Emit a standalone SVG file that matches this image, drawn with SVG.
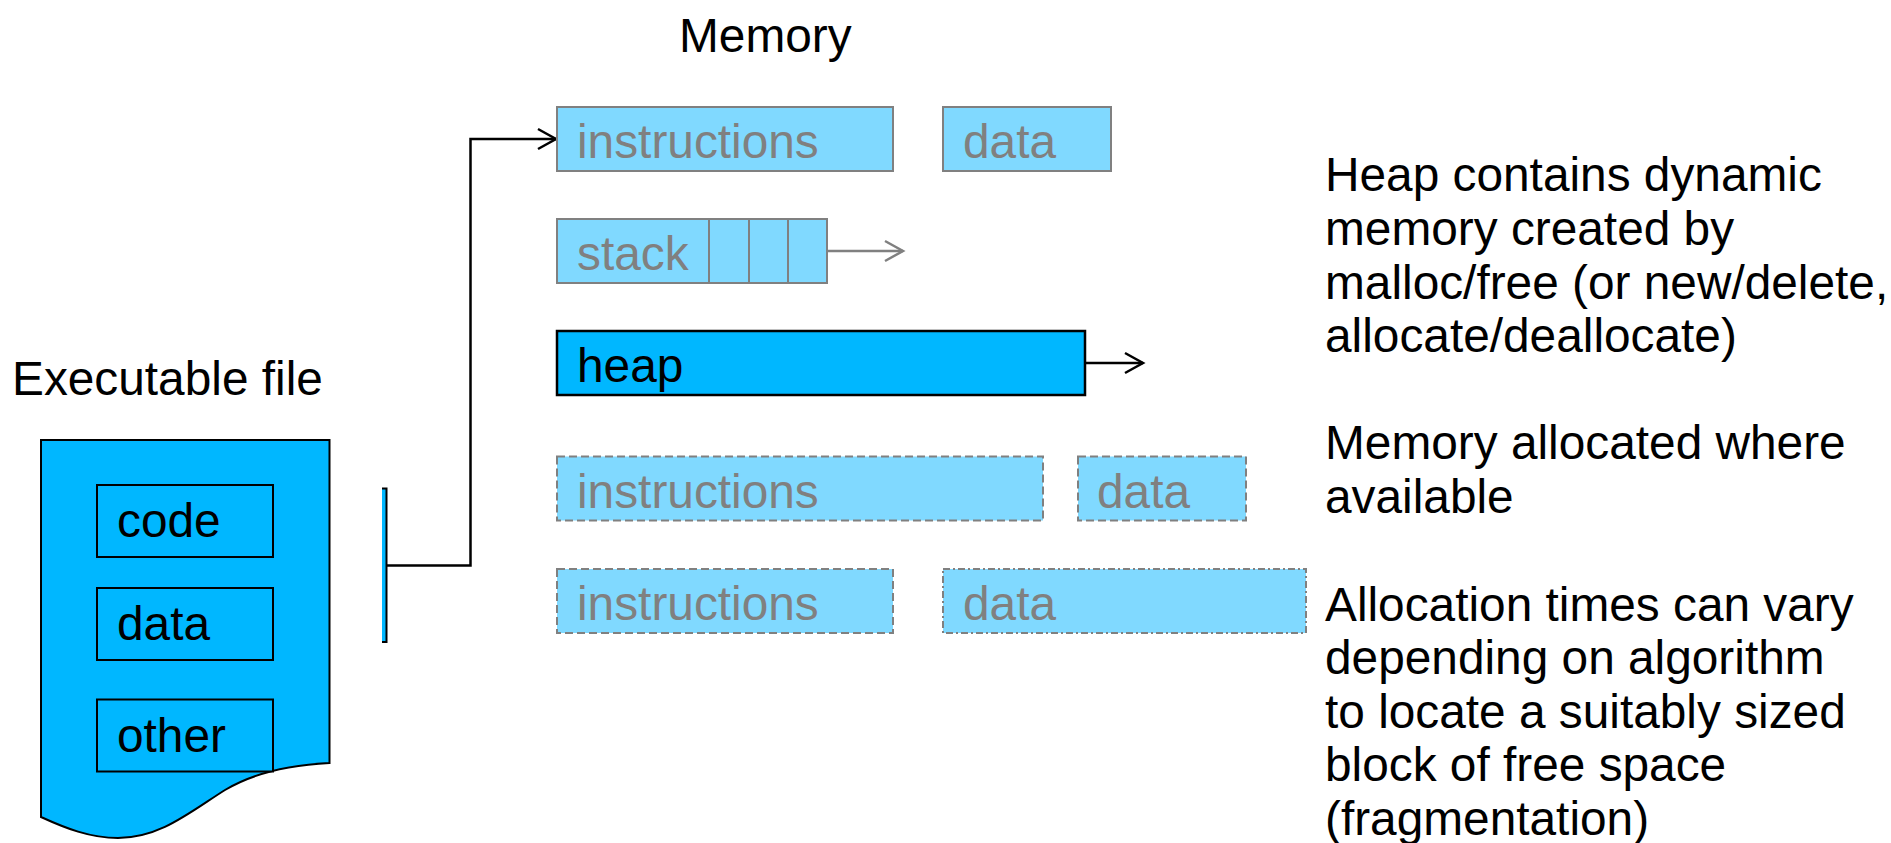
<svg xmlns="http://www.w3.org/2000/svg" width="1891" height="843" viewBox="0 0 1891 843">
<style>
text{font-family:"Liberation Sans",Arial,sans-serif;font-size:47.8px;fill:#000}
.g{fill:#808080}
.lt{fill:#80d9ff;stroke:#808080;stroke-width:2}
.ds{stroke-dasharray:8 4}
.dd{stroke-dasharray:7 3 2 3}
.bl{fill:#00b7ff;stroke:#000;stroke-width:2}
.hv{stroke-width:2.5}
.c{fill:none;stroke:#000;stroke-width:2.5}
.cg{fill:none;stroke:#808080;stroke-width:2.5}
</style>
<rect width="1891" height="843" fill="#fff"/>
<defs>
<marker id="ak" markerUnits="userSpaceOnUse" markerWidth="24" markerHeight="24" refX="20" refY="12" orient="auto"><path d="M2 2L20 12L2 22" fill="none" stroke="#000" stroke-width="2.5"/></marker>
<marker id="ag" markerUnits="userSpaceOnUse" markerWidth="24" markerHeight="24" refX="20" refY="12" orient="auto"><path d="M2 2L20 12L2 22" fill="none" stroke="#808080" stroke-width="2.5"/></marker>
</defs>
<g id="title-memory"><text x="679" y="52">Memory</text></g>
<g id="title-exe"><text x="12" y="395">Executable file</text></g>
<g id="exe-file">
<path class="bl" d="M41 440H329.500V763C290 765 255 772 225 790C190 812 160 838 118 838C90 838 65 828 41 817Z"/>
<rect class="bl" x="97" y="485" width="176" height="72"/><text x="117" y="537">code</text>
<rect class="bl" x="97" y="588" width="176" height="72"/><text x="117" y="640">data</text>
<rect class="bl" x="97" y="699.500" width="176" height="72"/><text x="117" y="752">other</text>
</g>
<g id="bar"><path class="bl" d="M382 488.500H386.500V642H382"/></g>
<g id="connectors">
<path class="c" d="M386.500 565.500H470.500V139H556" marker-end="url(#ak)"/>
<path class="cg" d="M827 251H903" marker-end="url(#ag)"/>
<path class="c" d="M1086 363H1143" marker-end="url(#ak)"/>
</g>
<g id="m-instructions"><rect class="lt" x="557" y="107" width="336" height="64"/><text class="g" x="577" y="158">instructions</text></g>
<g id="m-data"><rect class="lt" x="943" y="107" width="168" height="64"/><text class="g" x="963" y="158">data</text></g>
<g id="m-stack"><rect class="lt" x="557" y="219" width="270" height="64"/><path class="lt" d="M709 219V283M749 219V283M788 219V283"/><text class="g" x="577" y="270">stack</text></g>
<g id="m-heap"><rect class="bl hv" x="557" y="331" width="528" height="64"/><text x="577" y="382">heap</text></g>
<g id="d-instructions1"><rect class="lt ds" x="557" y="456.500" width="486" height="64"/><text class="g" x="577" y="508">instructions</text></g>
<g id="d-data1"><rect class="lt ds" x="1078" y="456.500" width="168" height="64"/><text class="g" x="1097" y="508">data</text></g>
<g id="d-instructions2"><rect class="lt ds" x="557" y="569" width="336" height="64"/><text class="g" x="577" y="620">instructions</text></g>
<g id="d-data2"><rect class="lt dd" x="943" y="569" width="363" height="64"/><text class="g" x="963" y="620">data</text></g>
<g id="notes">
<text x="1325" y="191">Heap contains dynamic</text>
<text x="1325" y="245">memory created by</text>
<text x="1325" y="299">malloc/free (or new/delete,</text>
<text x="1325" y="352">allocate/deallocate)</text>
<text x="1325" y="459">Memory allocated where</text>
<text x="1325" y="513">available</text>
<text x="1325" y="621">Allocation times can vary</text>
<text x="1325" y="674">depending on algorithm</text>
<text x="1325" y="728">to locate a suitably sized</text>
<text x="1325" y="781">block of free space</text>
<text x="1325" y="835">(fragmentation)</text>
</g>
</svg>
